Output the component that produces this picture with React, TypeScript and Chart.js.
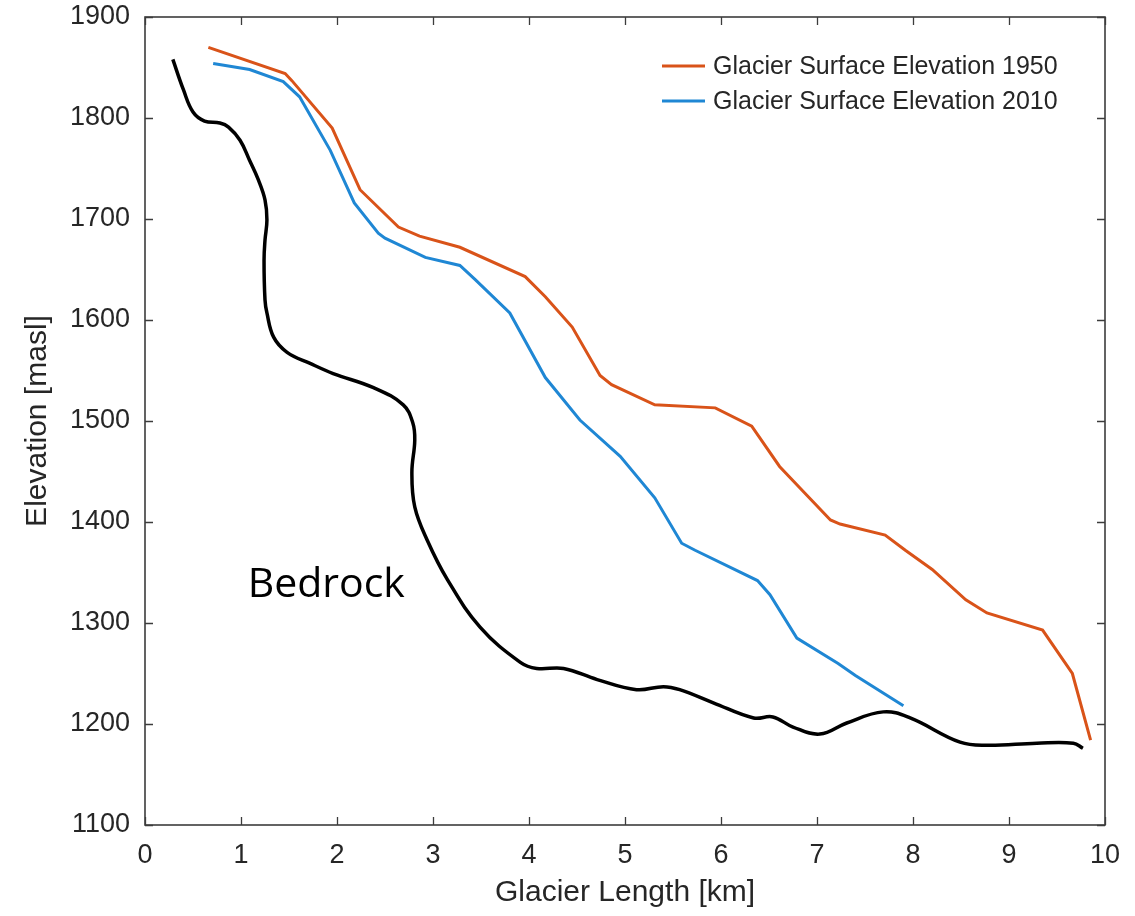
import React, { useEffect, useRef } from "react";
import { Chart, registerables } from "chart.js";

Chart.register(...registerables);

// ---- Data ----
const surface1950X = [0.66, 1.46, 1.53, 1.95, 2.24, 2.64, 2.86, 3.28, 3.96, 4.17, 4.45, 4.74, 4.86, 5.31, 5.94, 6.32, 6.61, 6.82, 7.14, 7.24, 7.71, 7.92, 8.2, 8.55, 8.77, 9.35, 9.66, 9.85];
const surface1950Y = [1870, 1844, 1837, 1790, 1729, 1692, 1683, 1672, 1643, 1623, 1593, 1545, 1536, 1516, 1513, 1495, 1455, 1434, 1402, 1398, 1387, 1372, 1353, 1323, 1310, 1293, 1250, 1184];

const surface2010X = [0.71, 1.09, 1.44, 1.61, 1.93, 2.18, 2.43, 2.5, 2.92, 3.28, 3.44, 3.8, 4.17, 4.53, 4.95, 5.31, 5.59, 5.73, 6.38, 6.51, 6.79, 7.22, 7.4, 7.9];
const surface2010Y = [1854, 1848, 1836, 1821, 1768, 1716, 1686, 1681, 1662, 1654, 1640, 1607, 1543, 1501, 1465, 1424, 1379, 1372, 1342, 1328, 1285, 1260, 1248, 1218];

const bedrockX = [0.29, 0.4, 0.5, 0.62, 0.78, 0.87, 0.99, 1.09, 1.18, 1.25, 1.27, 1.25, 1.24, 1.25, 1.27, 1.34, 1.48, 1.72, 1.96, 2.38, 2.69, 2.79, 2.81, 2.78, 2.81, 2.94, 3.15, 3.49, 3.91, 4.08, 4.36, 4.71, 5.12, 5.4, 5.57, 5.92, 6.34, 6.54, 6.75, 7.03, 7.31, 7.69, 7.97, 8.49, 8.77, 9.29, 9.67, 9.77];
const bedrockY = [1858, 1828, 1806, 1797, 1795, 1791, 1778, 1758, 1739, 1719, 1699, 1679, 1659, 1620, 1607, 1583, 1568, 1557, 1547, 1533, 1516, 1498, 1481, 1449, 1415, 1382, 1343, 1296, 1261, 1255, 1255, 1244, 1234, 1237, 1234, 1221, 1206, 1207, 1197, 1190, 1201, 1212, 1206, 1182, 1179, 1181, 1181, 1176];

const seriesLabels = ["Glacier Surface Elevation 1950", "Glacier Surface Elevation 2010", "Bedrock"];
const xTicks = [0, 1, 2, 3, 4, 5, 6, 7, 8, 9, 10];
const yTicks = [1100, 1200, 1300, 1400, 1500, 1600, 1700, 1800, 1900];
const xTitle = "Glacier Length [km]";
const yTitle = "Elevation [masl]";
const bedrockLabel = { text: "Bedrock", x: 1.07, y: 1326 };

const TEXT = "#262626";
const AXIS = "#3c3c3c";
const FONT = "'Liberation Sans', Arial, Helvetica, sans-serif";

const zip = (xs: number[], ys: number[]) => xs.map((x, i) => ({ x, y: ys[i] }));

const decorPlugin = {
  id: "decor",
  afterDraw(chart: any) {
    const { ctx, chartArea } = chart;
    const xs = chart.scales.x;
    const ys = chart.scales.y;
    const { left, right, top, bottom } = chartArea;
    ctx.save();
    // inward ticks
    ctx.strokeStyle = AXIS;
    ctx.lineWidth = 1.3;
    const tl = 8;
    ctx.beginPath();
    xTicks.forEach((v) => {
      const px = Math.round(xs.getPixelForValue(v)) + 0.5;
      ctx.moveTo(px, bottom);
      ctx.lineTo(px, bottom - tl);
      ctx.moveTo(px, top);
      ctx.lineTo(px, top + tl);
    });
    yTicks.forEach((v) => {
      const py = Math.round(ys.getPixelForValue(v)) + 0.5;
      ctx.moveTo(left, py);
      ctx.lineTo(left + tl, py);
      ctx.moveTo(right, py);
      ctx.lineTo(right - tl, py);
    });
    ctx.stroke();
    // box
    ctx.lineWidth = 1.6;
    ctx.strokeRect(left, top, right - left, bottom - top);

    // bedrock label
    ctx.fillStyle = "#000";
    ctx.font = "41px 'Open Sans', sans-serif";
    ctx.textAlign = "left";
    ctx.textBaseline = "alphabetic";
    ctx.fillText(bedrockLabel.text, xs.getPixelForValue(bedrockLabel.x), ys.getPixelForValue(bedrockLabel.y));

    // legend
    const legendItems = [0, 1];
    ctx.font = `25px ${FONT}`;
    ctx.textBaseline = "middle";
    legendItems.forEach((di, i) => {
      const ds = chart.data.datasets[di];
      const y = 66 + i * 35;
      ctx.strokeStyle = ds.borderColor;
      ctx.lineWidth = 3;
      ctx.beginPath();
      ctx.moveTo(662, y);
      ctx.lineTo(705, y);
      ctx.stroke();
      ctx.fillStyle = TEXT;
      ctx.fillText(ds.label, 713, y + 1);
    });
    ctx.restore();
  },
};

export default function App() {
  const ref = useRef<HTMLCanvasElement | null>(null);

  useEffect(() => {
    if (!ref.current) return;
    const chart = new Chart(ref.current, {
      type: "scatter",
      data: {
        datasets: [
          {
            label: seriesLabels[0],
            data: zip(surface1950X, surface1950Y),
            showLine: true,
            borderColor: "#D95319",
            backgroundColor: "#D95319",
            borderWidth: 3,
            pointRadius: 0,
            tension: 0,
          },
          {
            label: seriesLabels[1],
            data: zip(surface2010X, surface2010Y),
            showLine: true,
            borderColor: "#1f87d4",
            backgroundColor: "#1f87d4",
            borderWidth: 3,
            pointRadius: 0,
            tension: 0,
          },
          {
            label: seriesLabels[2],
            data: zip(bedrockX, bedrockY),
            showLine: true,
            borderColor: "#000000",
            backgroundColor: "#000000",
            borderWidth: 3.5,
            pointRadius: 0,
            tension: 0.4,
            borderCapStyle: "butt",
          },
        ],
      },
      options: {
        animation: false,
        responsive: false,
        devicePixelRatio: 1,
        layout: { padding: { top: 17, right: 30, left: 0, bottom: 0 } },
        plugins: {
          legend: { display: false },
          tooltip: { enabled: false },
        },
        scales: {
          x: {
            type: "linear",
            min: 0,
            max: 10,
            afterFit: (s: any) => {
              s.height = 91;
              s.paddingLeft = 0;
              s.paddingRight = 0;
            },
            afterBuildTicks: (s: any) => {
              s.ticks = xTicks.map((v) => ({ value: v }));
            },
            ticks: {
              color: TEXT,
              font: { family: FONT, size: 27 },
              padding: 14,
              maxRotation: 0,
              callback: (v: any) => String(v),
            },
            grid: { display: true, drawOnChartArea: false, drawTicks: false },
            border: { display: false },
            title: {
              display: true,
              text: xTitle,
              color: TEXT,
              font: { family: FONT, size: 30 },
              padding: { top: 0, bottom: 5 },
            },
          },
          y: {
            type: "linear",
            min: 1100,
            max: 1900,
            afterFit: (s: any) => {
              s.width = 145;
              s.paddingTop = 0;
              s.paddingBottom = 0;
            },
            afterBuildTicks: (s: any) => {
              s.ticks = yTicks.map((v) => ({ value: v }));
            },
            ticks: {
              color: TEXT,
              font: { family: FONT, size: 27 },
              padding: 15,
              callback: (v: any) => String(v),
            },
            grid: { display: true, drawOnChartArea: false, drawTicks: false },
            border: { display: false },
            title: {
              display: true,
              text: yTitle,
              color: TEXT,
              font: { family: FONT, size: 30 },
              padding: { top: 20, bottom: 0 },
            },
          },
        },
      },
      plugins: [decorPlugin],
    } as any);
    return () => chart.destroy();
  }, []);

  return (
    <div style={{ position: "fixed", left: 0, top: 0, width: 1135, height: 916, background: "#fff" }}>
      <canvas ref={ref} width={1135} height={916} style={{ display: "block", width: 1135, height: 916 }} />
    </div>
  );
}
